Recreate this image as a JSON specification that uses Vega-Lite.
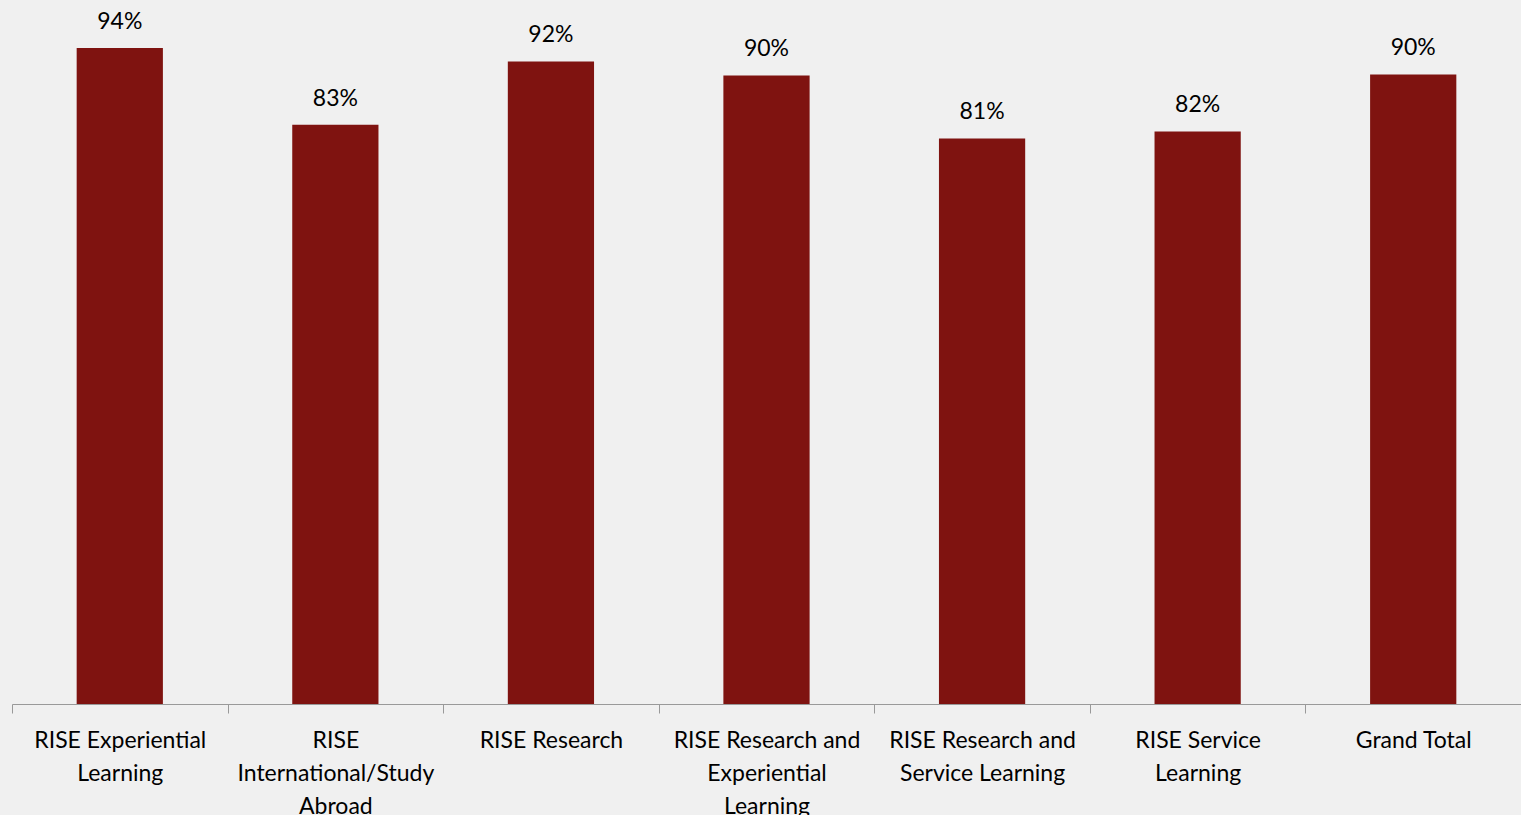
{
  "$schema": "https://vega.github.io/schema/vega-lite/v6.json",
  "autosize": "none",
  "width": 1509,
  "height": 698,
  "padding": {"left": 12, "top": 6, "right": 0, "bottom": 111},
  "background": "#f0f0f0",
  "config": {"view": {"stroke": null}, "font": "Lato"},
  "data": {
    "values": [
      {"category": "RISE Experiential Learning", "rate": 0.94},
      {"category": "RISE International/Study Abroad", "rate": 0.83},
      {"category": "RISE Research", "rate": 0.9205},
      {"category": "RISE Research and Experiential Learning", "rate": 0.9005},
      {"category": "RISE Research and Service Learning", "rate": 0.8103},
      {"category": "RISE Service Learning", "rate": 0.8203},
      {"category": "Grand Total", "rate": 0.902}
    ]
  },
  "encoding": {
    "x": {
      "field": "category",
      "type": "nominal",
      "sort": null,
      "scale": {"paddingInner": 0, "paddingOuter": 0},
      "axis": {
        "title": null,
        "labelAngle": 0,
        "domainColor": "#999999",
        "tickColor": "#999999",
        "tickSize": 9,
        "tickBand": "extent",
        "labelPadding": 16,
        "labelFont": "Lato",
        "labelFontSize": 23,
        "labelColor": "#000000",
        "labelLineHeight": 33,
        "labelLimit": 0,
        "labelOverlap": false,
        "labelExpr": "datum.label == 'RISE Experiential Learning' ? ['RISE Experiential', 'Learning'] : datum.label == 'RISE International/Study Abroad' ? ['RISE', 'International/Study', 'Abroad'] : datum.label == 'RISE Research and Experiential Learning' ? ['RISE Research and', 'Experiential', 'Learning'] : datum.label == 'RISE Research and Service Learning' ? ['RISE Research and', 'Service Learning'] : datum.label == 'RISE Service Learning' ? ['RISE Service', 'Learning'] : datum.label"
      }
    },
    "y": {
      "field": "rate",
      "type": "quantitative",
      "scale": {"domain": [0, 1], "nice": false},
      "axis": null
    }
  },
  "layer": [
    {"mark": {"type": "bar", "color": "#7f1310", "width": {"band": 0.4}}},
    {
      "mark": {"type": "text", "baseline": "alphabetic", "dy": -19, "fontSize": 23, "font": "Lato", "color": "#000000"},
      "encoding": {"text": {"field": "rate", "type": "quantitative", "format": ".0%"}}
    }
  ]
}
